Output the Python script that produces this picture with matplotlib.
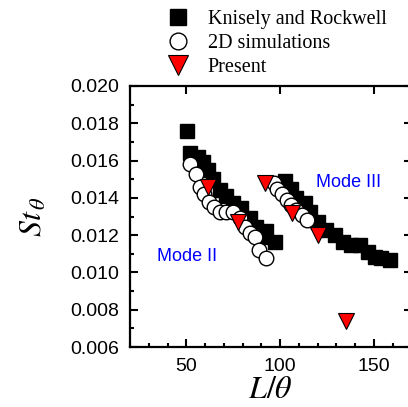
import matplotlib
matplotlib.use("Agg")
import matplotlib.pyplot as plt
from matplotlib.ticker import MultipleLocator

plt.rcParams['font.family'] = 'Liberation Sans'
plt.rcParams['mathtext.fontset'] = 'stix'

# Knisely and Rockwell (experiments)
kr_x = [50.2, 51.8, 56.2, 58.8, 61.5, 64.1, 67.9, 71.4, 74.8, 79.4, 83.8, 87.4, 90.7, 92.7, 97.1,
        102.5, 106.0, 108.7, 113.1, 115.7, 120.2, 124.6, 129.0, 133.5, 137.9, 142.3, 146.8,
        150.3, 153.9, 158.3]
kr_y = [0.0176, 0.0164, 0.0162, 0.0159, 0.0155, 0.0150, 0.0144, 0.0141, 0.0137, 0.01345, 0.0129,
        0.01245, 0.0119, 0.0122, 0.01165,
        0.0149, 0.0145, 0.0140, 0.0137, 0.01326, 0.0127, 0.01227, 0.0120, 0.01165, 0.01147,
        0.01147, 0.0111, 0.01084, 0.01076, 0.01067]

# 2D simulations
sim_x = [52.0, 55.0, 57.2, 59.5, 62.0, 64.5, 67.9, 71.4, 75.0, 78.5, 81.5, 84.0, 86.5, 89.0, 92.5,
         96.5, 98.5, 101.0, 103.5, 106.0, 108.7, 111.5, 114.5]
sim_y = [0.0158, 0.0153, 0.0146, 0.0142, 0.0138, 0.01353, 0.01326, 0.01326, 0.01326, 0.0129,
         0.01245, 0.0121, 0.01188, 0.0112, 0.0108,
         0.0148, 0.0145, 0.0142, 0.0139, 0.0136, 0.01335, 0.0131, 0.0128]

# Present
pr_x = [61.5, 77.6, 91.8, 106.2, 120.2, 135.2]
pr_y = [0.0146, 0.0127, 0.0148, 0.0132, 0.0120, 0.0074]

fig = plt.figure(figsize=(4.08, 4.07), dpi=100)
ax = fig.add_axes([0.3186, 0.1474, 0.690, 0.6413])

ax.plot(kr_x, kr_y, 's', color='black', markersize=10, label='Knisely and Rockwell')
ax.plot(sim_x, sim_y, 'o', markerfacecolor='white', markeredgecolor='black', markeredgewidth=1.0,
        markersize=10.5, label='2D simulations')
ax.plot(pr_x, pr_y, 'v', markerfacecolor='red', markeredgecolor='black', markeredgewidth=0.8,
        markersize=12, label='Present')

ax.text(34.4, 0.01083, 'Mode II', color='blue', fontsize=13, ha='left', va='center')
ax.text(119, 0.01485, 'Mode III', color='blue', fontsize=13, ha='left', va='center')

ax.set_xlim(20, 170)
ax.set_ylim(0.006, 0.020)
ax.xaxis.set_major_locator(MultipleLocator(50))
ax.xaxis.set_minor_locator(MultipleLocator(10))
ax.yaxis.set_major_locator(MultipleLocator(0.002))
ax.yaxis.set_minor_locator(MultipleLocator(0.001))
ax.yaxis.set_major_formatter(matplotlib.ticker.FormatStrFormatter('%.3f'))

ax.tick_params(which='both', direction='in', width=1.5, labelsize=14, top=True, right=True)
ax.tick_params(which='major', length=5.5)
ax.tick_params(which='minor', length=3, top=False, right=False)
ax.tick_params(axis='x', pad=8)
ax.tick_params(axis='y', pad=8)
for s in ax.spines.values():
    s.set_linewidth(1.6)

ax.set_xlabel(r'$L/\theta$', fontsize=23, labelpad=0)
ax.set_ylabel(r'$St_{\,\theta}$', fontsize=23, labelpad=15)

fig.legend(loc='upper left', bbox_to_anchor=(0.388, 0.995), frameon=False,
           prop={'family': 'Liberation Serif', 'size': 14.5}, handletextpad=0.85,
           labelspacing=0.25, borderaxespad=0, handlelength=1.2, markerscale=1.15)

fig.savefig('out.png', dpi=100)
